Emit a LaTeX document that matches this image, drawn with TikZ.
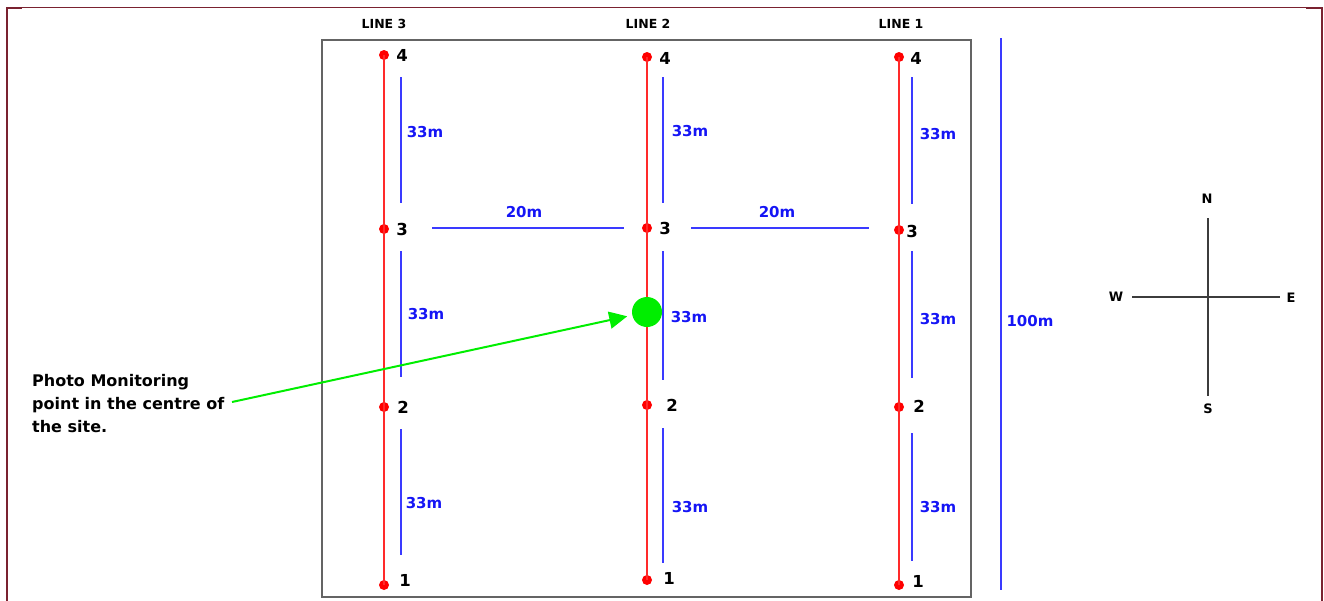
\documentclass[tikz,border=0pt]{standalone}
\usepackage{fontspec}
\setmainfont{DejaVu Sans}
\usetikzlibrary{arrows.meta}
\definecolor{framec}{HTML}{7A2230}
\definecolor{redl}{HTML}{FF2A2A}
\definecolor{redd}{HTML}{FF0000}
\definecolor{bluel}{HTML}{3A3AFF}
\definecolor{bluet}{HTML}{1515F5}
\definecolor{greenc}{HTML}{00EE00}
\definecolor{rectc}{HTML}{646464}
\definecolor{compc}{HTML}{3C3C3C}
\begin{document}
\begin{tikzpicture}[x=1pt,y=-1pt,
  dot/.style={circle,fill=redd,inner sep=0,minimum size=10pt},
  redline/.style={draw=redl,line width=1.5pt},
  num/.style={font=\bfseries\fontsize{16.5}{16.5}\selectfont,inner sep=0},
  dimline/.style={draw=bluel,line width=1.7pt},
  dimlbl/.style={text=bluet,font=\bfseries\fontsize{15}{15}\selectfont,inner sep=0},
  head/.style={font=\bfseries\fontsize{12.5}{12.5}\selectfont,inner sep=0},
  comp/.style={font=\bfseries\fontsize{13}{13}\selectfont,inner sep=0},
  compline/.style={draw=compc,line width=1.4pt},
  note/.style={font=\bfseries\fontsize{16}{23}\selectfont,align=left,inner sep=0,anchor=west}
]
\useasboundingbox (0,0) rectangle (1324,600);
% outer frame
\draw[framec,line width=1.2pt] (7,7.3) -- (1322,7.3);
\draw[framec,line width=2pt] (7,601) -- (7,6.5);
\draw[framec,line width=2pt] (1322,601) -- (1322,6.5);
\draw[framec,line width=2pt] (7,7.8) -- (22,7.8);
\draw[framec,line width=2pt] (1306,7.8) -- (1322,7.8);
% site rectangle
\draw[rectc,line width=1.7pt] (322,40) rectangle (971,597);
% headings
\node[head] (h3) at (384,24) {LINE 3};
\node[head] (h2) at (648,24) {LINE 2};
\node[head] (h1) at (901,24) {LINE 1};
% dots line 3
\node[dot] (a4) at (384,55) {};
\node[dot] (a3) at (384,229) {};
\node[dot] (a2) at (384,407) {};
\node[dot] (a1) at (384,585) {};
% dots line 2
\node[dot] (b4) at (647,57) {};
\node[dot] (b3) at (647,228) {};
\node[dot] (b2) at (647,405) {};
\node[dot] (b1) at (647,580) {};
% dots line 1
\node[dot] (c4) at (899,57) {};
\node[dot] (c3) at (899,230) {};
\node[dot] (c2) at (899,407) {};
\node[dot] (c1) at (899,585) {};
% red lines
\draw[redline] (a4.center) -- (a3.center) -- (a2.center) -- (a1.center);
\draw[redline] (b4.center) -- (b3.center) -- (b2.center) -- (b1.center);
\draw[redline] (c4.center) -- (c3.center) -- (c2.center) -- (c1.center);
% point numbers
\node[num] (na4) at (402,55) {4};
\node[num] (na3) at (402,229) {3};
\node[num] (na2) at (403,407) {2};
\node[num] (na1) at (405,580) {1};
\node[num] (nb4) at (665,58) {4};
\node[num] (nb3) at (665,228) {3};
\node[num] (nb2) at (672,405) {2};
\node[num] (nb1) at (669,578) {1};
\node[num] (nc4) at (916,58) {4};
\node[num] (nc3) at (912,231) {3};
\node[num] (nc2) at (919,406) {2};
\node[num] (nc1) at (918,581) {1};
% blue dimension lines
\draw[dimline] (401,77) -- (401,203);
\draw[dimline] (401,251) -- (401,377);
\draw[dimline] (401,429) -- (401,555);
\draw[dimline] (663,77) -- (663,203);
\draw[dimline] (663,251) -- (663,380);
\draw[dimline] (663,428) -- (663,563);
\draw[dimline] (912,77) -- (912,204);
\draw[dimline] (912,251) -- (912,378);
\draw[dimline] (912,433) -- (912,561);
\draw[dimline] (432,228) -- (624,228);
\draw[dimline] (691,228) -- (869,228);
\draw[dimline] (1001,38) -- (1001,590);
% dimension labels
\node[dimlbl] (da1) at (425,132) {33m};
\node[dimlbl] (da2) at (426,314) {33m};
\node[dimlbl] (da3) at (424,503) {33m};
\node[dimlbl] (db1) at (690,131) {33m};
\node[dimlbl] (db2) at (689,317) {33m};
\node[dimlbl] (db3) at (690,507) {33m};
\node[dimlbl] (dc1) at (938,134) {33m};
\node[dimlbl] (dc2) at (938,319) {33m};
\node[dimlbl] (dc3) at (938,507) {33m};
\node[dimlbl] (dh1) at (524,212) {20m};
\node[dimlbl] (dh2) at (777,212) {20m};
\node[dimlbl] (dv) at (1030,321) {100m};
% photo monitoring point
\node[circle,fill=greenc,inner sep=0,minimum size=30pt] (gc) at (647,312) {};
\node[note] (txt) at (32,404) {Photo Monitoring\\point in the centre of\\the site.};
\coordinate (as) at (232,402);
\draw[greenc,line width=2pt,-{Triangle[length=18pt,width=17pt]},shorten >=5pt] (as) -- (gc);
% compass
\node[comp] (N) at (1207,199) {N};
\node[comp] (S) at (1208,409) {S};
\node[comp] (W) at (1116,297) {W};
\node[comp] (E) at (1291,298) {E};
\coordinate (nt) at (1208,218);
\coordinate (sb) at (1208,396);
\coordinate (wl) at (1132,297);
\coordinate (er) at (1280,297);
\draw[compline] (nt) -- (sb);
\draw[compline] (wl) -- (er);
\end{tikzpicture}
\end{document}
